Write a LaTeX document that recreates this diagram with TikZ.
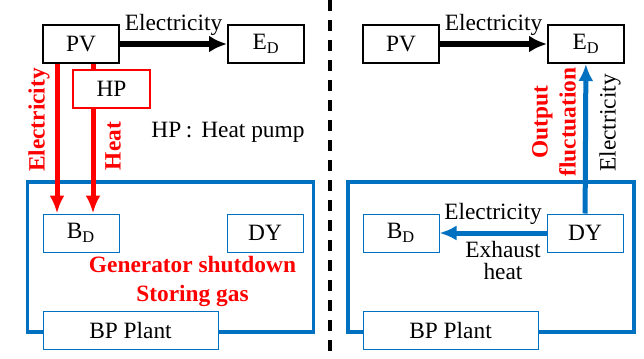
\documentclass[tikz,border=0pt]{standalone}
\usepackage{fontspec}
\setmainfont{Liberation Serif}
\usetikzlibrary{arrows.meta,positioning}
\definecolor{plantBlue}{RGB}{0,112,192}
\definecolor{flowRed}{RGB}{255,0,0}

\begin{document}
\begin{tikzpicture}[
  font=\fontsize{13.3pt}{16pt}\selectfont,
  unitbox/.style={draw,line width=0.04cm,minimum width=1.52cm,minimum height=0.76cm,inner sep=0pt,fill=white},
  plantbox/.style={draw=plantBlue,line width=0.02cm,minimum width=1.52cm,minimum height=0.76cm,inner sep=0pt,fill=white},
  hpbox/.style={draw=flowRed,line width=0.03cm,minimum width=1.54cm,minimum height=0.76cm,inner sep=0pt,fill=white},
  plantframe/.style={draw=plantBlue,line width=0.07cm,minimum width=5.72cm,minimum height=3cm,inner sep=0pt},
  elecarrow/.style={-{Latex[length=0.36cm,width=0.34cm]},line width=0.11cm},
  redarrow/.style={-{Latex[length=0.36cm,width=0.3cm]},line width=0.1cm,flowRed},
  bluearrow/.style={-{Latex[length=0.34cm,width=0.3cm]},line width=0.1cm,plantBlue},
  redlabel/.style={text=flowRed,font=\fontsize{13.3pt}{16pt}\selectfont\bfseries}
]
  \useasboundingbox (0,0) rectangle (12.88,-7.16);

  % left: generator shutdown
  \node[plantframe] (frameL) at (3.41,-5.14) {};
  \node[unitbox] (pvL) at (1.62,-0.88) {PV};
  \node[unitbox,right=2.14cm of pvL] (edL) {E\textsubscript{D}};
  \node[hpbox] (hpL) at (2.23,-1.78) {HP};
  \node[plantbox] (bdL) at (1.62,-4.66) {B\textsubscript{D}};
  \node[plantbox,right=2.14cm of bdL] (dyL) {DY};
  \node[plantbox,minimum width=3.5cm] (bpL) at (2.61,-6.61) {BP Plant};
  \coordinate (elecxL) at (1.14,0);
  \coordinate (heatxL) at (1.86,0);
  \draw[elecarrow] (pvL) -- node[above] {Electricity} (edL);
  \draw[redarrow] (pvL.south -| elecxL) -- (bdL.north -| elecxL);
  \draw[flowRed,line width=0.1cm] (pvL.south -| heatxL) -- (hpL.north -| heatxL);
  \draw[redarrow] (hpL.south -| heatxL) -- (bdL.north -| heatxL);
  \node[redlabel,rotate=90] (elecL) at (0.78,-2.4) {Electricity};
  \node[redlabel,rotate=90] (heatL) at (2.26,-2.92) {Heat};
  \node (hpnote) at (4.56,-2.64) {HP\hspace{0.09cm}:\hspace{0.18cm}Heat pump};
  \node[redlabel,align=center] (shutdown) at (3.85,-5.63) {Generator shutdown\\Storing gas};

  % divider
  \coordinate (divtop) at (6.6,0);
  \coordinate (divbot) at (6.6,-7.16);
  \draw[line width=0.08cm,dash pattern=on 0.22cm off 0.18cm] (divtop) -- (divbot);

  % right: generator running
  \node[plantframe] (frameR) at (9.82,-5.14) {};
  \node[unitbox] (pvR) at (8.02,-0.88) {PV};
  \node[unitbox,right=2.14cm of pvR] (edR) {E\textsubscript{D}};
  \node[plantbox] (bdR) at (8.02,-4.66) {B\textsubscript{D}};
  \node[plantbox,right=2.14cm of bdR] (dyR) {DY};
  \node[plantbox,minimum width=3.5cm] (bpR) at (9.01,-6.61) {BP Plant};
  \draw[elecarrow] (pvR) -- node[above] {Electricity} (edR);
  \draw[bluearrow] (dyR) -- node[above,text=black] {Electricity}
    node[below,xshift=0.2cm,align=center,text=black,font=\fontsize{13.3pt}{12.5pt}\selectfont] {Exhaust\\heat} (bdR);
  \draw[bluearrow] (dyR) -- (edR);
  \node[redlabel,rotate=90,align=center] (fluct) at (11.08,-2.44) {Output\\fluctuation};
  \node[rotate=90] (elecR) at (12.2,-2.46) {Electricity};
\end{tikzpicture}
\end{document}
